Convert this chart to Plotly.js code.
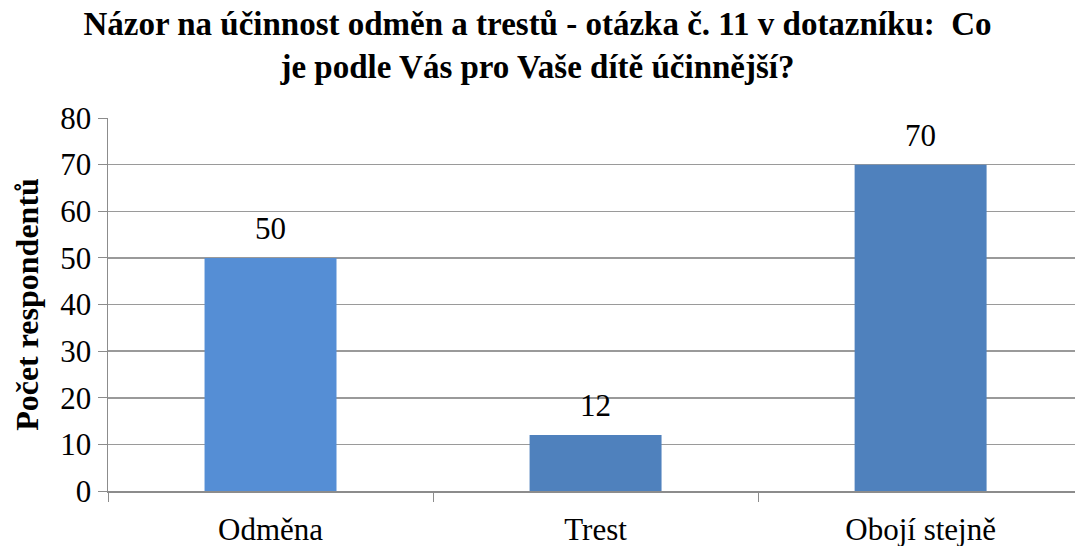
<!DOCTYPE html>
<html>
<head>
<meta charset="utf-8">
<script src="https://cdn.plot.ly/plotly-3.0.1.min.js"></script>
<style>
  html, body { margin: 0; padding: 0; background: #fff; }
  #plotArea { width: 1075px; height: 546px; }
</style>
</head>
<body>
<div id="plotArea"></div>
<script>
// odpovedi na otazku c. 11
var categories = ["Odměna", "Trest", "Obojí stejně"];
var counts = [50, 12, 70];
var barColors = ["#558ED5", "#4F81BD", "#4F81BD"];

var serif = '"Liberation Serif", "Times New Roman", serif';

var trace = {
    x: categories,
    y: counts,
    type: "bar",
    marker: {color: barColors},
    hoverinfo: "x+y"
};

// popisky hodnot nad sloupci
var labels = categories.map(function(cat, i) {
    return {
        x: cat,
        y: counts[i],
        text: String(counts[i]),
        showarrow: false,
        yanchor: "bottom",
        yshift: 10,
        font: {family: serif, size: 31, color: "#000"}
    };
});

var layout = {
    width: 1075,
    height: 546,
    margin: {l: 108, r: 0, t: 118, b: 55},
    paper_bgcolor: "#fff",
    plot_bgcolor: "#fff",
    showlegend: false,
    bargap: 0.594,
    annotations: labels,
    title: {
        text: "<b>Názor na účinnost odměn a trestů - otázka č. 11 v dotazníku:  Co<br>je podle Vás pro Vaše dítě účinnější?</b>",
        font: {family: serif, size: 33, color: "#000"},
        x: 0.5,
        xanchor: "center",
        y: 0.935,
        yanchor: "top"
    },
    xaxis: {
        range: [-0.5, 2.475],
        showgrid: false,
        showline: true,
        linecolor: "#8c8c8c",
        linewidth: 1.5,
        ticks: "outside",
        tickson: "boundaries",
        ticklen: 9,
        tickcolor: "#8c8c8c",
        ticklabelstandoff: 10,
        tickfont: {family: serif, size: 31, color: "#000"},
        fixedrange: true
    },
    yaxis: {
        range: [0, 80],
        dtick: 10,
        showgrid: true,
        gridcolor: "#9a9a9a",
        gridwidth: 1.5,
        zeroline: false,
        showline: true,
        linecolor: "#8c8c8c",
        linewidth: 1.5,
        ticks: "outside",
        ticklen: 9,
        tickcolor: "#8c8c8c",
        tickfont: {family: serif, size: 31, color: "#000"},
        title: {
            text: "<b>Počet respondentů</b>",
            font: {family: serif, size: 32, color: "#000"},
            standoff: 12
        },
        fixedrange: true
    }
};

Plotly.newPlot("plotArea", [trace], layout, {displayModeBar: false, staticPlot: true});
</script>
</body>
</html>
